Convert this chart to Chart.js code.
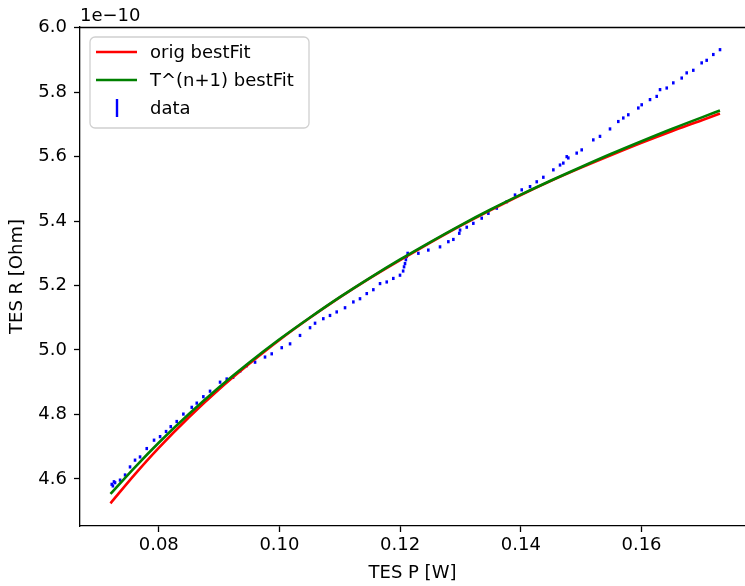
<!DOCTYPE html>
<html><head><meta charset="utf-8">
<script src="https://cdn.jsdelivr.net/npm/chart.js@4"></script>
<style>html,body{margin:0;padding:0;background:#fff}#wrap{width:745px;height:586px;position:relative}</style>
</head><body><div id="wrap"><canvas id="c" width="745" height="586"></canvas></div>
<script>
// ---- data (R values in units of 1e-10 Ohm) ----
const fitP = [0.072,0.076,0.080,0.085,0.090,0.095,0.100,0.105,0.110,0.115,0.120,0.125,0.130,0.135,0.140,0.145,0.150,0.155,0.160,0.165,0.170,0.173];
const origFitR = [4.524,4.613,4.696,4.791,4.878,4.957,5.031,5.099,5.163,5.223,5.279,5.333,5.385,5.434,5.481,5.525,5.566,5.605,5.643,5.679,5.713,5.734];
const tnFitR = [4.553,4.635,4.712,4.801,4.884,4.961,5.033,5.100,5.164,5.224,5.281,5.335,5.387,5.436,5.482,5.526,5.568,5.609,5.648,5.686,5.722,5.743];
const dataP = [0.07221,0.07240,0.07258,0.07276,0.07359,0.07442,0.07524,0.07607,0.07690,0.07801,0.07922,0.08022,0.08121,0.08199,0.08298,0.08408,0.08547,0.08630,0.08739,0.08850,0.09016,0.09127,0.09231,0.09350,0.09458,0.09596,0.09761,0.09872,0.10038,0.10176,0.10341,0.10507,0.10590,0.10727,0.10838,0.10949,0.11087,0.11225,0.11335,0.11447,0.11556,0.11667,0.11778,0.11887,0.11998,0.12050,0.12065,0.12081,0.12095,0.12109,0.12125,0.12302,0.12467,0.12661,0.12799,0.12882,0.12980,0.12993,0.13104,0.13213,0.13352,0.13462,0.13601,0.13767,0.13904,0.14015,0.14153,0.14264,0.14373,0.14539,0.14650,0.14704,0.14761,0.14787,0.14926,0.15009,0.15201,0.15312,0.15478,0.15615,0.15698,0.15781,0.15947,0.16003,0.16141,0.16252,0.16307,0.16418,0.16527,0.16666,0.16749,0.16858,0.16997,0.17080,0.17190,0.17301];
const dataR = [4.583,4.578,4.591,4.588,4.596,4.612,4.637,4.658,4.668,4.694,4.720,4.731,4.747,4.762,4.778,4.801,4.822,4.835,4.855,4.872,4.900,4.910,4.915,4.935,4.951,4.962,4.978,4.988,5.007,5.019,5.045,5.069,5.083,5.097,5.107,5.118,5.131,5.149,5.159,5.175,5.187,5.206,5.211,5.222,5.232,5.245,5.258,5.268,5.280,5.290,5.300,5.300,5.310,5.320,5.336,5.343,5.362,5.372,5.381,5.393,5.409,5.424,5.440,5.460,5.481,5.497,5.507,5.522,5.536,5.559,5.574,5.580,5.600,5.596,5.611,5.621,5.652,5.663,5.686,5.709,5.720,5.730,5.751,5.761,5.777,5.787,5.808,5.813,5.829,5.844,5.860,5.868,5.891,5.899,5.917,5.932];
const xTicks = [0.08,0.10,0.12,0.14,0.16];
const yTicks = [4.6,4.8,5.0,5.2,5.4,5.6,5.8,6.0];
const seriesLabels = ['orig bestFit','T^(n+1) bestFit','data'];
const xTitle = 'TES P [W]';
const yTitle = 'TES R [Ohm]';
const yOffsetText = '1e\u221210';

const FONT = 'DejaVu Sans';
Chart.defaults.font.family = FONT;
Chart.defaults.font.size = 18;
Chart.defaults.color = '#000';

const pts = (xs, ys) => xs.map((x, i) => ({x, y: ys[i]}));

const overlay = {
  id: 'overlay',
  afterDraw(chart) {
    const ctx = chart.ctx, a = chart.chartArea;
    ctx.save();
    // top spine
    ctx.strokeStyle = '#000'; ctx.lineWidth = 1.3;
    ctx.beginPath(); ctx.moveTo(a.left, a.top + 0.5); ctx.lineTo(a.right, a.top + 0.5); ctx.stroke();
    // offset text
    ctx.font = '18px "' + FONT + '"'; ctx.fillStyle = '#000';
    ctx.textAlign = 'left'; ctx.textBaseline = 'alphabetic';
    ctx.fillText(yOffsetText, a.left, a.top - 6);
    // legend
    const bx = a.left + 10, by = a.top + 10, bw = 219, bh = 91, r = 5;
    ctx.beginPath();
    ctx.moveTo(bx + r, by); ctx.lineTo(bx + bw - r, by); ctx.arcTo(bx + bw, by, bx + bw, by + r, r);
    ctx.lineTo(bx + bw, by + bh - r); ctx.arcTo(bx + bw, by + bh, bx + bw - r, by + bh, r);
    ctx.lineTo(bx + r, by + bh); ctx.arcTo(bx, by + bh, bx, by + bh - r, r);
    ctx.lineTo(bx, by + r); ctx.arcTo(bx, by, bx + r, by, r); ctx.closePath();
    ctx.fillStyle = 'rgba(255,255,255,0.8)'; ctx.fill();
    ctx.strokeStyle = '#d0d0d0'; ctx.lineWidth = 1.3; ctx.stroke();
    const ds = chart.data.datasets;
    const rows = [by + 15, by + 43, by + 71];
    [0, 1].forEach(i => {
      ctx.strokeStyle = ds[i].borderColor; ctx.lineWidth = 2.6;
      ctx.beginPath(); ctx.moveTo(bx + 6, rows[i]); ctx.lineTo(bx + 47, rows[i]); ctx.stroke();
    });
    ctx.strokeStyle = ds[2].borderColor; ctx.lineWidth = 2.4;
    ctx.beginPath(); ctx.moveTo(bx + 27, rows[2] - 9); ctx.lineTo(bx + 27, rows[2] + 9); ctx.stroke();
    ctx.fillStyle = '#000'; ctx.textBaseline = 'middle';
    ds.forEach((d, i) => ctx.fillText(d.label, bx + 60, rows[i] + 1));
    ctx.restore();
  }
};

new Chart(document.getElementById('c'), {
  type: 'scatter',
  data: {
    datasets: [
      {label: seriesLabels[0], data: pts(fitP, origFitR), showLine: true, borderColor: '#ff0000', backgroundColor: '#ff0000', borderWidth: 2.6, pointRadius: 0, cubicInterpolationMode: 'monotone', order: 1},
      {label: seriesLabels[1], data: pts(fitP, tnFitR), showLine: true, borderColor: '#008000', backgroundColor: '#008000', borderWidth: 2.6, pointRadius: 0, cubicInterpolationMode: 'monotone', order: 0},
      {label: seriesLabels[2], data: pts(dataP, dataR), showLine: false, borderColor: '#0000ff', backgroundColor: '#0000ff', pointStyle: 'line', rotation: 90, pointRadius: 1.6, pointBorderWidth: 2.6, order: 2}
    ]
  },
  options: {
    responsive: false, animation: false, devicePixelRatio: 1,
    layout: {autoPadding: false, padding: {top: 27, right: 0, left: 0, bottom: 0}},
    plugins: {legend: {display: false}, tooltip: {enabled: false}},
    scales: {
      x: {
        type: 'linear', min: 0.06695, max: 0.17715,
        afterBuildTicks: s => { s.ticks = xTicks.map(v => ({value: v})); },
        afterFit: s => { s.height = 60; s.paddingLeft = 0; s.paddingRight = 0; },
        ticks: {callback: v => v.toFixed(2), padding: 3, font: {size: 18}, color: '#000', maxRotation: 0, autoSkip: false},
        grid: {drawOnChartArea: false, tickLength: 6, tickColor: '#000', tickWidth: 1.3},
        border: {color: '#000', width: 1.3},
        title: {display: true, text: xTitle, font: {size: 18}, color: '#000', padding: {top: 0, bottom: 2}}
      },
      y: {
        type: 'linear', min: 4.4536, max: 6.0024,
        afterBuildTicks: s => { s.ticks = yTicks.map(v => ({value: v})); },
        afterFit: s => { s.width = 80; s.paddingTop = 0; s.paddingBottom = 0; },
        ticks: {callback: v => v.toFixed(1), padding: 7, font: {size: 18}, color: '#000', autoSkip: false},
        grid: {drawOnChartArea: false, tickLength: 6, tickColor: '#000', tickWidth: 1.3},
        border: {color: '#000', width: 1.3},
        title: {display: true, text: yTitle, font: {size: 18}, color: '#000', padding: {top: 7, bottom: 0}}
      }
    }
  },
  plugins: [overlay]
});
</script></body></html>
